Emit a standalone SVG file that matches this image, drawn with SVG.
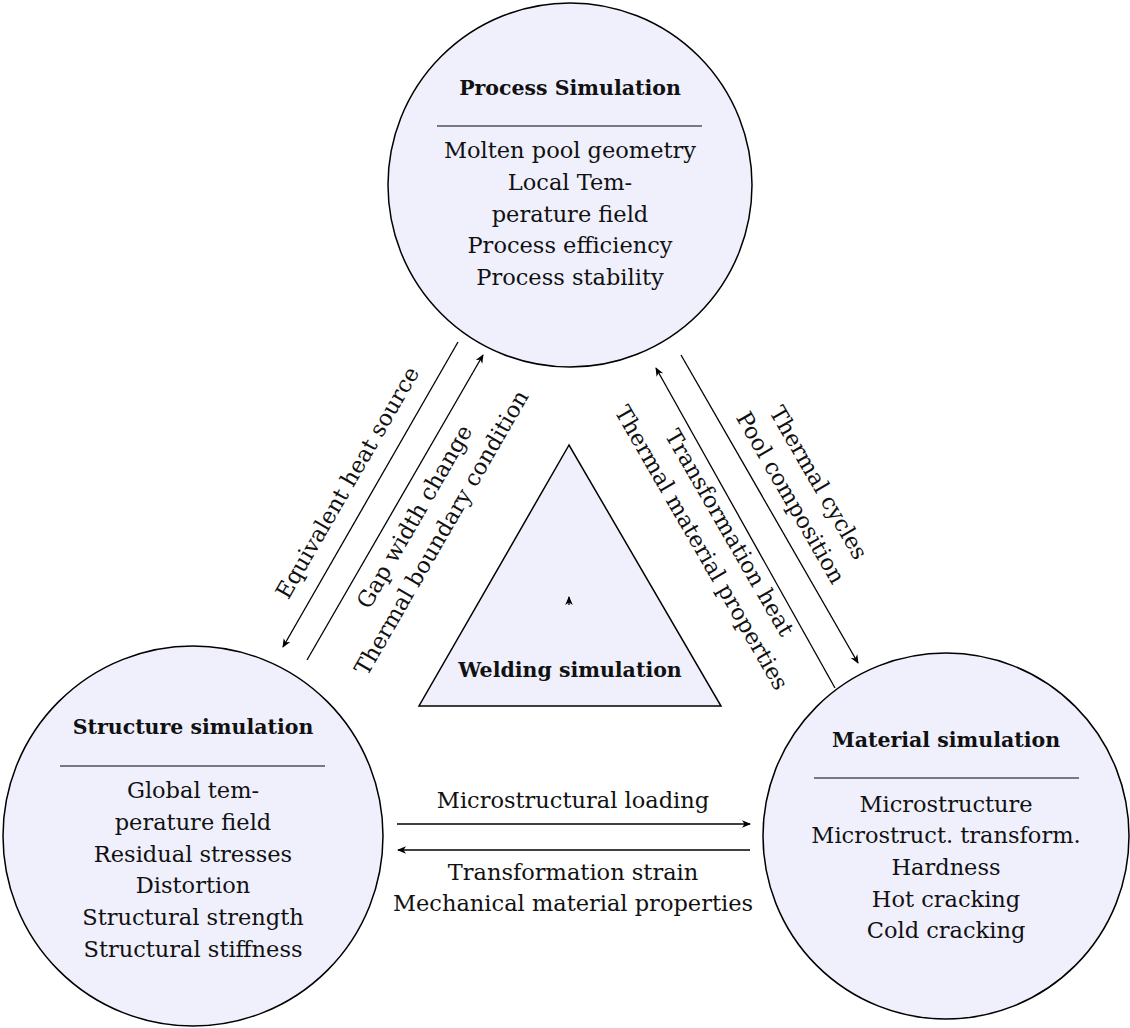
<svg xmlns="http://www.w3.org/2000/svg" width="1130" height="1028" viewBox="0 0 1130 1028">
<defs>
<style>
.node{fill:#f0f0fd;stroke:#000;stroke-width:1.5}
.sep{stroke:#000;stroke-width:1}
.t{font-family:"DejaVu Serif","Liberation Serif",serif;font-size:22.5px;fill:#111;text-anchor:middle}
.b{font-family:"DejaVu Serif","Liberation Serif",serif;font-size:20.5px;font-weight:bold;fill:#111;text-anchor:middle}
.c{stroke:#000;stroke-width:1.3;fill:none;marker-end:url(#ah)}
</style>
<marker id="ah" viewBox="-10 -5 12 10" refX="0" refY="0" markerWidth="12" markerHeight="10" markerUnits="userSpaceOnUse" orient="auto">
<path d="M1,0 L-8,-3.8 L-5.5,0 L-8,3.8 Z" fill="#000"/>
</marker>
</defs>
<rect width="1130" height="1028" fill="#fff"/>
<g id="process">
<circle class="node" cx="570" cy="185" r="182"/>
<text class="b" x="570" y="95">Process Simulation</text>
<line class="sep" x1="437" y1="126" x2="702" y2="126"/>
<text class="t" x="570" y="158">Molten pool geometry</text>
<text class="t" x="570" y="190">Local Tem-</text>
<text class="t" x="570" y="222">perature field</text>
<text class="t" x="570" y="253">Process efficiency</text>
<text class="t" x="570" y="285">Process stability</text>
</g>
<g id="structure">
<circle class="node" cx="193" cy="836" r="190"/>
<text class="b" x="193" y="734">Structure simulation</text>
<line class="sep" x1="60" y1="766" x2="325" y2="766"/>
<text class="t" x="193" y="798">Global tem-</text>
<text class="t" x="193" y="830">perature field</text>
<text class="t" x="193" y="862">Residual stresses</text>
<text class="t" x="193" y="893">Distortion</text>
<text class="t" x="193" y="925">Structural strength</text>
<text class="t" x="193" y="957">Structural stiffness</text>
</g>
<g id="material">
<circle class="node" cx="946" cy="836" r="183"/>
<text class="b" x="946" y="747">Material simulation</text>
<line class="sep" x1="814" y1="778" x2="1079" y2="778"/>
<text class="t" x="946" y="812">Microstructure</text>
<text class="t" x="946" y="843">Microstruct. transform.</text>
<text class="t" x="946" y="875">Hardness</text>
<text class="t" x="946" y="907">Hot cracking</text>
<text class="t" x="946" y="938">Cold cracking</text>
</g>
<g id="welding">
<polygon class="node" points="569,445 419,706 721,706"/>
<text class="b" x="570" y="677">Welding simulation</text>
<line x1="569" y1="605" x2="569" y2="597" stroke="#000" stroke-width="1.3" marker-end="url(#ah)"/>
</g>
<g id="connectors">
<line class="c" x1="458" y1="342" x2="283" y2="647"/>
<line class="c" x1="307" y1="660" x2="483" y2="355"/>
<line class="c" x1="681" y1="355" x2="858" y2="663"/>
<line class="c" x1="835" y1="688" x2="656" y2="368"/>
<line class="c" x1="397" y1="824" x2="750" y2="824"/>
<line class="c" x1="750" y1="850" x2="398" y2="850"/>
<text class="t" transform="translate(348,483) rotate(-60)" y="7">Equivalent heat source</text>
<text class="t" transform="translate(415,517) rotate(-60)" y="7">Gap width change</text>
<text class="t" transform="translate(442,533) rotate(-60)" y="7">Thermal boundary condition</text>
<text class="t" transform="translate(818,483) rotate(60)" y="7">Thermal cycles</text>
<text class="t" transform="translate(790,498) rotate(60)" y="7">Pool composition</text>
<text class="t" transform="translate(729,533) rotate(60)" y="7">Transformation heat</text>
<text class="t" transform="translate(701,548) rotate(60)" y="7">Thermal material properties</text>
<text class="t" x="573" y="808">Microstructural loading</text>
<text class="t" x="573" y="880">Transformation strain</text>
<text class="t" x="573" y="911">Mechanical material properties</text>
</g>
</svg>
